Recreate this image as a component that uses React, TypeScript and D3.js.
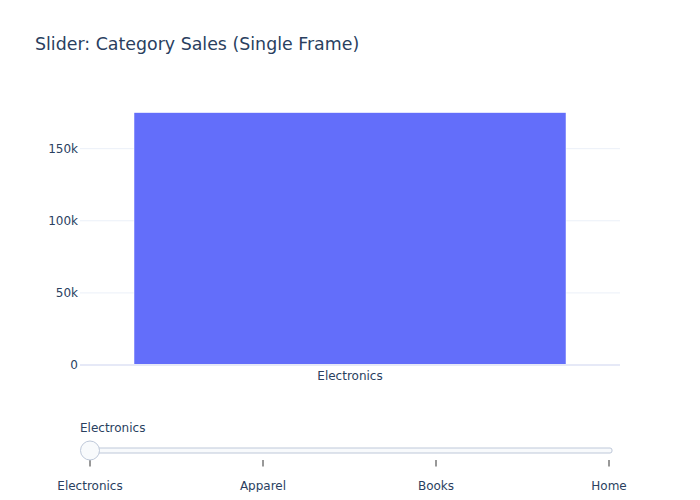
import React, { useEffect, useRef } from 'react'
import * as d3 from 'd3'

const categories = ['Electronics']
const sales = [175000]
const sliderSteps = ['Electronics', 'Apparel', 'Books', 'Home']
const yTicks = [0, 50000, 100000, 150000]

const W = 700, H = 500
const plot = { left: 80, right: 620, top: 100, bottom: 365 }
const font = 'Verdana, "DejaVu Sans", sans-serif'
const textColor = '#2a3f5f'

export default function App() {
    const ref = useRef<SVGSVGElement>(null)

    useEffect(() => {
        const svg = d3.select(ref.current)
        svg.selectAll('*').remove()

        const x = d3.scaleBand().domain(categories).range([plot.left, plot.right])
            .paddingInner(0.2).paddingOuter(0.1)
        const y = d3.scaleLinear().domain([0, d3.max(sales)! * 1.05]).range([plot.bottom, plot.top])

        svg.append('rect').attr('width', W).attr('height', H).attr('fill', 'white')

        // title
        svg.append('text')
            .attr('x', 35).attr('y', 50)
            .attr('font-family', font).attr('font-size', 17.4).attr('fill', textColor)
            .text('Slider: Category Sales (Single Frame)')

        // grid
        svg.append('g').selectAll('line')
            .data(yTicks.filter(d => d > 0))
            .join('line')
            .attr('x1', plot.left).attr('x2', plot.right)
            .attr('y1', d => y(d)).attr('y2', d => y(d))
            .attr('stroke', '#ebf0f8').attr('stroke-width', 1)

        // bars
        svg.append('g').selectAll('rect')
            .data(categories)
            .join('rect')
            .attr('x', d => x(d)!)
            .attr('width', x.bandwidth())
            .attr('y', (d, i) => y(sales[i]))
            .attr('height', (d, i) => y(0) - y(sales[i]))
            .attr('fill', '#636efa')
            .attr('stroke', 'white').attr('stroke-width', 0.5)

        // zero line
        svg.append('line')
            .attr('x1', plot.left).attr('x2', plot.right)
            .attr('y1', y(0)).attr('y2', y(0))
            .attr('stroke', '#e6e9f7').attr('stroke-width', 2)

        // y tick labels
        svg.append('g').selectAll('text')
            .data(yTicks)
            .join('text')
            .attr('x', plot.left - 2).attr('y', d => y(d) + 4)
            .attr('text-anchor', 'end')
            .attr('font-family', font).attr('font-size', 12).attr('fill', textColor)
            .text(d => d === 0 ? '0' : d3.format('~s')(d))

        // x tick labels
        svg.append('g').selectAll('text')
            .data(categories)
            .join('text')
            .attr('x', d => x(d)! + x.bandwidth() / 2).attr('y', plot.bottom + 15)
            .attr('text-anchor', 'middle')
            .attr('font-family', font).attr('font-size', 12).attr('fill', textColor)
            .text(d => d)

        // slider
        const s = d3.scalePoint().domain(sliderSteps).range([90, 609])
        const railY = 450.5
        svg.append('rect')
            .attr('x', 82).attr('y', railY - 2.5)
            .attr('width', 612 - 82).attr('height', 5)
            .attr('rx', 2)
            .attr('fill', '#f8fafc').attr('stroke', '#bec8d9').attr('stroke-width', 1)

        svg.append('g').selectAll('line')
            .data(sliderSteps)
            .join('line')
            .attr('x1', d => s(d)!).attr('x2', d => s(d)!)
            .attr('y1', railY + 9.5).attr('y2', railY + 16)
            .attr('stroke', '#333').attr('stroke-width', 1)

        svg.append('g').selectAll('text')
            .data(sliderSteps)
            .join('text')
            .attr('x', d => s(d)!).attr('y', railY + 39.5)
            .attr('text-anchor', 'middle')
            .attr('font-family', font).attr('font-size', 12).attr('fill', textColor)
            .text(d => d)

        svg.append('circle')
            .attr('cx', s(sliderSteps[0])!).attr('cy', railY).attr('r', 9.5)
            .attr('fill', '#f8fafc').attr('stroke', '#bec8d9').attr('stroke-width', 1)

        svg.append('text')
            .attr('x', 80).attr('y', railY - 19)
            .attr('font-family', font).attr('font-size', 12).attr('fill', textColor)
            .text(sliderSteps[0])
    }, [])

    return (
        <div style={{ margin: -8 }}>
            <svg ref={ref} width={W} height={H} style={{ display: 'block' }} />
        </div>
    )
}
